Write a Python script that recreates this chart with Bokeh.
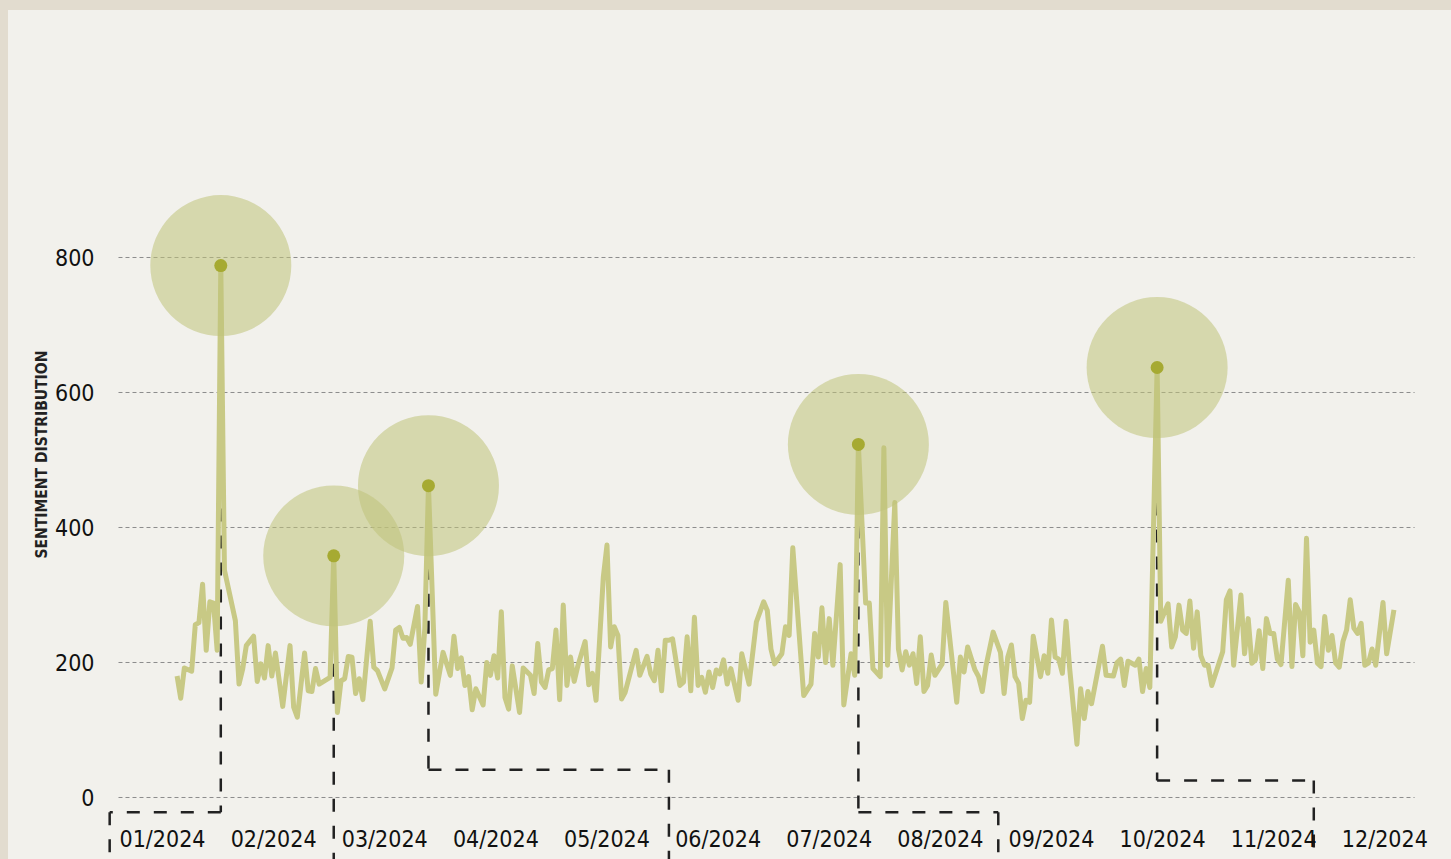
from bokeh.plotting import figure
from bokeh.models import ColumnDataSource, FixedTicker, Range1d, Title
from bokeh.embed import file_html
from bokeh.resources import INLINE

# ---- data (day index from 1 Jan 2024, sentiment value) ----
days = [4, 5, 6, 8, 9, 10, 11, 12, 13, 14, 15, 16, 17, 20, 21, 22, 23, 25, 26, 27, 28, 29, 30, 31, 33, 35, 36, 37, 39, 40,
        41, 42, 43, 46, 47, 48, 49, 50, 51, 52, 53, 54, 55, 57, 58, 59, 61, 63, 64, 65, 66, 67, 68, 70, 71, 72, 73, 75, 77, 79,
        80, 81, 82, 83, 84, 85, 86, 88, 89, 90, 91, 92, 93, 94, 95, 96, 98, 99, 101, 102, 103, 104, 105, 106, 107, 108, 109, 110, 111, 112,
        113, 114, 116, 117, 118, 119, 121, 122, 123, 124, 125, 126, 127, 130, 131, 133, 134, 135, 136, 137, 138, 139, 140, 142, 143, 144, 145, 146, 147, 148,
        149, 150, 151, 152, 153, 154, 155, 156, 158, 159, 161, 163, 165, 166, 167, 168, 170, 171, 172, 173, 176, 178, 179, 180, 181, 182, 183, 184, 186, 187,
        189, 190, 191, 193, 194, 195, 197, 198, 199, 201, 202, 203, 204, 205, 206, 207, 208, 209, 210, 211, 212, 214, 215, 218, 219, 220, 221, 223, 224, 225,
        226, 228, 230, 231, 232, 233, 234, 235, 236, 237, 238, 239, 241, 242, 243, 244, 245, 246, 247, 248, 249, 251, 252, 253, 254, 255, 258, 259, 261, 262,
        263, 264, 265, 267, 268, 269, 270, 271, 273, 274, 276, 277, 278, 279, 280, 281, 282, 283, 284, 285, 286, 287, 288, 291, 292, 293, 294, 296, 297, 298,
        299, 300, 301, 302, 303, 304, 305, 306, 307, 309, 310, 311, 312, 313, 314, 315, 316, 317, 318, 319, 320, 321, 322, 323, 324, 325, 326, 327, 328, 329,
        330, 331, 332, 333, 335, 336, 338]
values = [180, 147, 192, 187, 256, 259, 316, 218, 290, 288, 218, 788, 337, 262, 168, 190, 225, 239, 172, 198, 177, 225, 180, 214, 135, 225, 134, 119, 214, 158,
          157, 191, 168, 178, 358, 126, 173, 176, 209, 208, 154, 176, 145, 261, 193, 188, 161, 192, 248, 252, 236, 237, 227, 283, 171, 251, 462, 153, 215, 181,
          239, 191, 207, 166, 179, 130, 161, 137, 200, 181, 210, 177, 275, 148, 131, 195, 126, 192, 181, 154, 228, 171, 163, 189, 191, 248, 145, 285, 166, 208,
          172, 195, 231, 167, 184, 144, 327, 374, 223, 253, 240, 146, 156, 218, 181, 209, 183, 173, 218, 158, 233, 233, 235, 166, 171, 238, 158, 267, 166, 178,
          156, 186, 163, 189, 183, 204, 168, 191, 144, 213, 168, 260, 290, 277, 220, 198, 213, 253, 240, 370, 151, 168, 243, 208, 281, 200, 265, 196, 345, 137,
          213, 181, 523, 288, 288, 191, 179, 518, 196, 437, 220, 189, 216, 196, 213, 169, 238, 157, 166, 211, 181, 198, 289, 141, 208, 186, 223, 189, 179, 157,
          194, 245, 215, 154, 208, 226, 179, 169, 117, 144, 141, 239, 179, 210, 184, 263, 208, 205, 184, 261, 191, 79, 161, 117, 157, 139, 224, 181, 180, 200,
          205, 166, 202, 196, 205, 157, 191, 163, 637, 261, 287, 223, 238, 285, 248, 243, 291, 221, 275, 210, 196, 196, 166, 216, 293, 306, 196, 300, 213, 265,
          199, 204, 247, 191, 265, 243, 243, 205, 197, 322, 194, 286, 275, 210, 384, 230, 248, 199, 194, 268, 218, 240, 199, 193, 231, 248, 293, 251, 243, 258,
          196, 199, 220, 196, 289, 213, 278]

month_labels = ["01/2024", "02/2024", "03/2024", "04/2024", "05/2024", "06/2024",
                "07/2024", "08/2024", "09/2024", "10/2024", "11/2024", "12/2024"]
month_ticks = [0, 30.5, 61, 91.5, 122, 152.5, 183, 213.5, 244, 274.5, 305, 335.5]
y_ticks = [0, 200, 400, 600, 800]

highlight_days = [16, 47, 73, 191, 273]
# callout leader lines: elbow level (None = straight down) and target x (day)
callout_elbow = [-22, None, 41, -22, 25]
callout_target = [-14.5, 47, 139, 229.4, 316]
callout_bottom = -200

X_MIN, X_MAX = -15.92, 353.8
Y_MIN, Y_MAX = -91.85, 1165.9
GRID_X0, GRID_X1 = -12.08, 343.67

lookup = dict(zip(days, values))
hl_vals = [lookup[d] for d in highlight_days]

x0s, y0s, x1s, y1s = [], [], [], []
for d, v, e, t in zip(highlight_days, hl_vals, callout_elbow, callout_target):
    if e is None:
        pts = [(d, v), (d, callout_bottom)]
    else:
        pts = [(d, v), (d, e), (t, e), (t, callout_bottom)]
    for (a, b), (c, f) in zip(pts[:-1], pts[1:]):
        x0s.append(a); y0s.append(b); x1s.append(c); y1s.append(f)

BG = "#f2f1ec"
EDGE = "#e2dccf"
p = figure(width=1443, height=849, output_backend="svg", toolbar_location=None,
           x_range=Range1d(X_MIN, X_MAX), y_range=Range1d(Y_MIN, Y_MAX),
           min_border_left=96, min_border_right=0, min_border_top=0, min_border_bottom=0,
           background_fill_color=None, border_fill_color=None, outline_line_color=None)

p.xgrid.visible = False
p.ygrid.visible = False
# horizontal dotted grid lines at the y ticks
p.segment(x0=[GRID_X0] * len(y_ticks), x1=[GRID_X1] * len(y_ticks), y0=y_ticks, y1=y_ticks,
          line_color="#8c8c8c", line_dash="4 3", line_width=1)

# callouts (under the line)
csrc = ColumnDataSource(dict(x0=x0s, y0=y0s, x1=x1s, y1=y1s))
p.segment(x0="x0", y0="y0", x1="x1", y1="y1", source=csrc,
          line_color="#222222", line_width=2.5, line_dash="13 14")

src = ColumnDataSource(dict(x=days, y=values))
p.line("x", "y", source=src, line_color="#c8c985", line_width=5, line_join="round")

hsrc = ColumnDataSource(dict(x=highlight_days, y=hl_vals))
p.scatter("x", "y", source=hsrc, size=141, fill_color="#bfc27a", fill_alpha=0.55, line_color=None)
p.scatter("x", "y", source=hsrc, size=13, fill_color="#a6aa32", line_color=None)

FONT = "DejaVu Sans Condensed"
p.xaxis.ticker = FixedTicker(ticks=month_ticks)
p.xaxis.major_label_overrides = {t: l for t, l in zip(month_ticks, month_labels)}
p.xaxis.fixed_location = -26.7
p.yaxis.ticker = FixedTicker(ticks=y_ticks)
for ax in (p.xaxis[0], p.yaxis[0]):
    ax.axis_line_color = None
    ax.major_tick_line_color = None
    ax.minor_tick_line_color = None
    ax.major_label_text_font = FONT
    ax.major_label_text_font_size = "23px"
    ax.major_label_text_color = "#111111"
p.xaxis.major_label_standoff = 4
p.yaxis.major_label_standoff = 4

ytitle = Title(text="SENTIMENT DISTRIBUTION", align="left", offset=301,
               text_font=FONT, text_font_style="bold", text_font_size="15.5px",
               text_color="#222222", standoff=3)
p.add_layout(ytitle, "left")

html = file_html(p, INLINE)
style = ("<style>html{background:%s !important;overflow:hidden !important;}"
         "body{background:%s !important;margin:0 !important;overflow:hidden !important;"
         "border-top:10px solid %s;border-left:8px solid %s;}</style>") % (BG, BG, EDGE, EDGE)
html = html.replace("<head>", "<head>" + style, 1)
open("out.html", "w").write(html)
